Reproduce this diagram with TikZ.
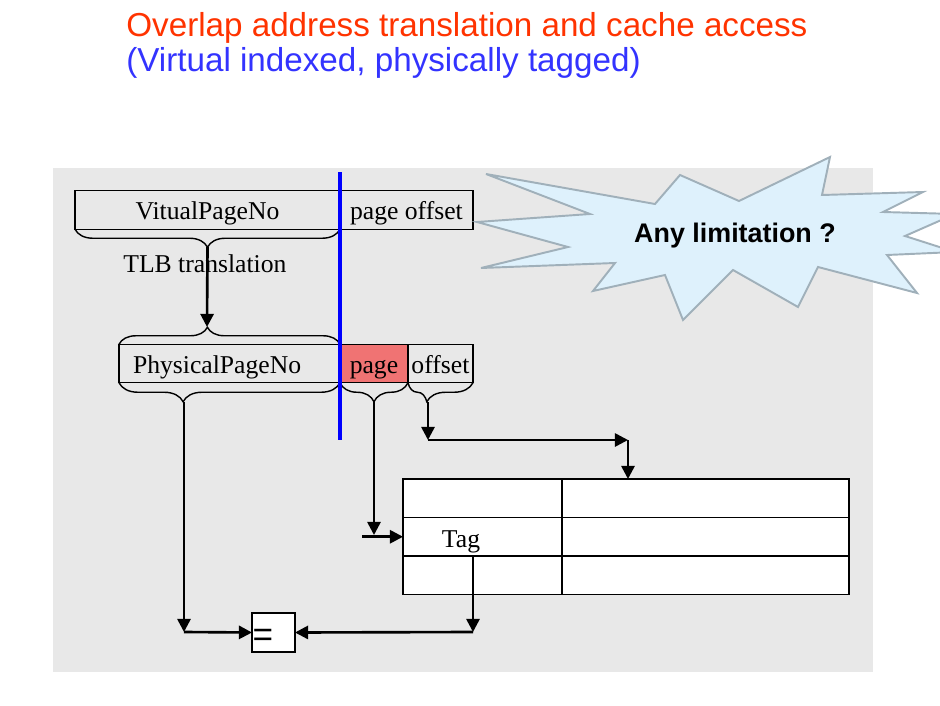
\documentclass[tikz,border=0pt]{standalone}
\usepackage{fontspec}
\setmainfont{Liberation Serif}
\newfontfamily\headfont{Liberation Sans}
\usetikzlibrary{arrows.meta,calc,positioning,decorations.pathreplacing}

\definecolor{titlered}{RGB}{255,51,0}
\definecolor{titleblue}{RGB}{51,51,255}
\definecolor{panelgray}{RGB}{232,232,232}
\definecolor{pagered}{RGB}{240,115,115}
\definecolor{starfill}{RGB}{222,241,252}
\definecolor{starline}{RGB}{160,176,186}

\tikzset{
  field/.style={draw,line width=.75pt,inner sep=0pt,outer sep=0pt,minimum height=.77cm,
    text height=.5cm,text depth=.1cm},
  cell/.style={draw,fill=white,line width=1pt,inner sep=0pt,outer sep=0pt,minimum height=.77cm},
  link/.style={line width=1.5pt,->},
  bracket/.style 2 args={decorate,decoration={brace,aspect=#1,amplitude=#2},line width=.8pt},
}

\begin{document}
\begin{tikzpicture}[x=0.02cm,y=-0.02cm,font=\fontsize{14.6}{17}\selectfont,
    >={Triangle[length=7.5pt,width=7.5pt]}]
 \clip (0,0) rectangle (940,706);
 \node[anchor=base west,inner sep=0pt,text=titlered,
    font=\headfont\fontsize{18.9}{22}\selectfont] (title) at (126,37)
    {Overlap address translation and cache access};
 \node[anchor=base west,inner sep=0pt,text=titleblue,
    font=\headfont\fontsize{18.9}{22}\selectfont] (subtitle) at (126,72)
    {(Virtual indexed, physically tagged)};
 \fill[panelgray] (53,168) rectangle (873,672);

 % virtual address
 \node[field,minimum width=5.3cm] (vpn) at (207.5,210) {VitualPageNo};
 \node[field,minimum width=2.66cm,right=0pt of vpn] (voff) {page offset};
 \draw[bracket={.5}{.36cm}] (vpn.south east) -- (vpn.south west);
 \node[anchor=base west,inner sep=0pt] (tlb) at (123,272) {TLB translation};

 % physical address
 \node[field,minimum width=4.42cm,text width=3.86cm,align=left,inner xsep=.28cm]
    (ppn) at (229.5,363.5) {PhysicalPageNo};
 \node[field,fill=pagered,minimum width=1.36cm,right=0pt of ppn] (ppage) {page};
 \node[field,minimum width=1.3cm,right=0pt of ppage] (poff) {offset};
 \draw[bracket={.4}{.34cm}] (ppn.north west) -- (ppn.north east);
 \draw[bracket={.71}{.38cm}] (ppn.south east) -- (ppn.south west);
 \draw[bracket={.5}{.38cm}] (ppage.south east) -- (ppage.south west);
 \draw[bracket={.71}{.38cm}] (poff.south east) -- (poff.south west);
 \draw[blue,line width=2.3pt] (340,172) -- (340,440);

 % cache
 \foreach \r in {1,2,3}{
   \node[cell,minimum width=3.18cm] (k\r) at (482.5,{479+38.5*(\r-.5)}) {};
   \node[cell,minimum width=5.74cm,right=0pt of k\r] (d\r) {};
 }
 \node[anchor=base,inner sep=0pt] (tag) at (461,547) {Tag};
 \node[cell,minimum width=.86cm,minimum height=.78cm] (eq) at (273.5,632.5) {};
 \node[font=\headfont\fontsize{20}{22}\selectfont,inner sep=0pt] (eqsign) at (263,638) {=};

 \coordinate (vpntip) at (207.5,247);
 \coordinate (ppntop) at (207,327);
 \coordinate (ppntip) at (184,402);
 \coordinate (ppndrop) at (184,632);
 \coordinate (pagetip) at (374,402);
 \coordinate (pagedrop) at (374,535);
 \coordinate (tagin) at (362,536.75);
 \coordinate (offtip) at (428,402);
 \coordinate (offdrop) at (428,440);
 \coordinate (idx) at (628,440);
 \coordinate (tagsrc) at (473,556);
 \coordinate (tagdrop) at (473,632);

 \draw[link] (vpntip) -- (ppntop);
 \draw[link] (ppntip) -- (ppndrop);
 \draw[link] (ppndrop) -- (eq.west);
 \draw[link] (pagetip) -- (pagedrop);
 \draw[link] (tagin) -- (k2.west);
 \draw[link] (offtip) -- (offdrop);
 \draw[link] (offdrop) -- (idx);
 \draw[link] (idx) -- (idx |- d1.north);
 \draw[link] (tagsrc) -- (tagdrop);
 \draw[link] (tagdrop) -- (eq.east);

 % callout
 \draw[starline,fill=starfill,line width=1.1pt]
    (486,174) -- (655,204) -- (680,175) -- (739,201) -- (830,157) -- (822,195)
    -- (923,192) -- (883,212) -- (955,214) -- (905,236) -- (955,252) -- (887,255)
    -- (917,293) -- (818,267) -- (798,307) -- (733,270) -- (683,320) -- (665,275)
    -- (593,291) -- (615,263) -- (481,268) -- (568,247) -- (477,222) -- (590,214)
    -- cycle;
 \node[font=\headfont\bfseries\fontsize{15.3}{18}\selectfont] (limit) at (735,236)
    {Any limitation ?};
\end{tikzpicture}
\end{document}
